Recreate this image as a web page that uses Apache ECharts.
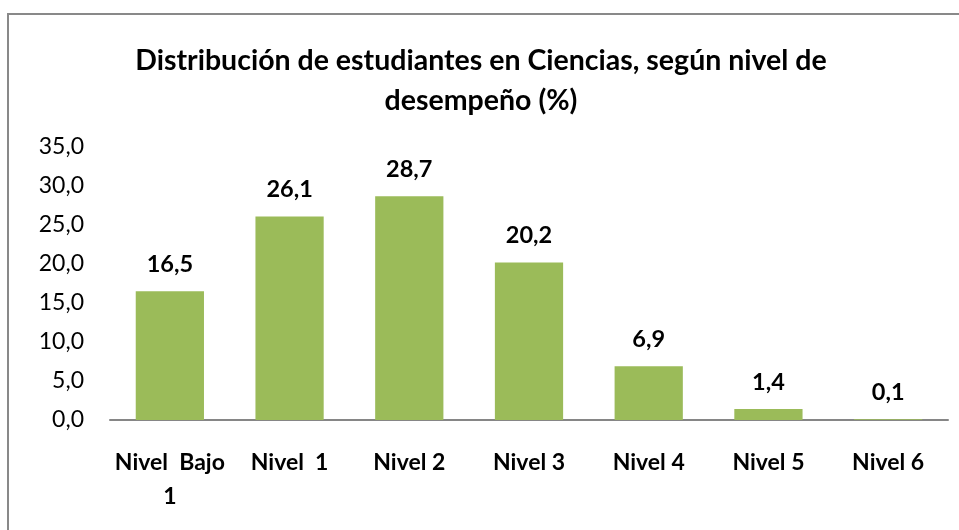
<!DOCTYPE html>
<html>
<head>
<meta charset="utf-8">
<script src="https://cdn.jsdelivr.net/npm/echarts@6/dist/echarts.min.js"></script>
<style>
html,body{margin:0;padding:0;background:#fff;}
#c{width:959px;height:530px;}
</style>
</head>
<body>
<div id="c"></div>
<script>
const titleText = 'Distribución de estudiantes en Ciencias, según nivel de\ndesempeño (%)';
const categories = ['Nivel  Bajo\n1', 'Nivel  1', 'Nivel 2', 'Nivel 3', 'Nivel 4', 'Nivel 5', 'Nivel 6'];
const values = [16.5, 26.1, 28.7, 20.2, 6.9, 1.4, 0.1];
const yMin = 0, yMax = 35, yStep = 5;

const fmt = v => v.toFixed(1).replace('.', ',');
const FONT = "Lato, 'Liberation Sans', sans-serif";

const chart = echarts.init(document.getElementById('c'), null, {renderer: 'canvas'});
chart.setOption({
  animation: false,
  backgroundColor: '#fff',
  graphic: [{
    type: 'rect',
    shape: {x: 8, y: 14, width: 1000, height: 700},
    style: {fill: 'none', stroke: '#898989', lineWidth: 2},
    silent: true
  }],
  title: {
    text: titleText,
    left: 476,
    textAlign: 'center',
    top: 36,
    textStyle: {fontFamily: FONT, fontWeight: 'bold', fontSize: 28.5, lineHeight: 40, color: '#000'}
  },
  grid: {left: 110, right: 11, top: 147, bottom: 110, containLabel: false},
  xAxis: {
    type: 'category',
    data: categories,
    axisLine: {show: true, lineStyle: {color: '#868686', width: 2}},
    axisTick: {show: false},
    axisLabel: {fontFamily: FONT, fontWeight: 'bold', fontSize: 23, lineHeight: 34, color: '#000', margin: 26, interval: 0}
  },
  yAxis: {
    type: 'value',
    min: yMin, max: yMax, interval: yStep,
    axisLine: {show: false},
    axisTick: {show: false},
    splitLine: {show: false},
    axisLabel: {fontFamily: FONT, fontSize: 23, color: '#000', margin: 26, formatter: v => fmt(v)}
  },
  series: [{
    type: 'bar',
    data: values,
    barWidth: '57%',
    itemStyle: {color: '#9BBB59'},
    label: {
      show: true, position: 'top', distance: 15,
      fontFamily: FONT, fontWeight: 'bold', fontSize: 23.5, color: '#000',
      formatter: p => fmt(p.value)
    }
  }]
});
</script>
</body>
</html>
